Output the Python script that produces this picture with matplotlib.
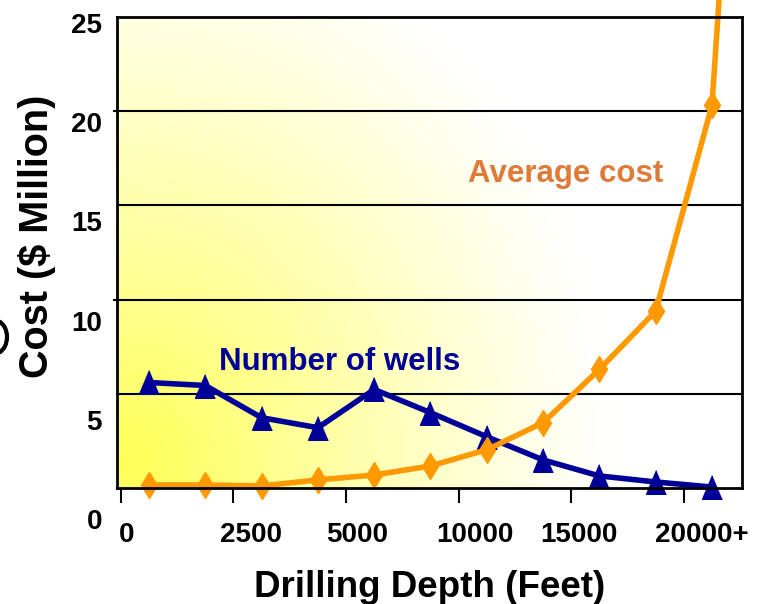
import numpy as np
import matplotlib
matplotlib.use('Agg')
import matplotlib.pyplot as plt
from matplotlib.transforms import ScaledTranslation
from matplotlib.patches import Arc

# ---------------- data ----------------
depth_labels = ['0', '2500', '5000', '10000', '15000', '20000+']
n_points = 11
wells = [5.6, 5.44, 3.73, 3.2, 5.23, 4.0, 2.72, 1.49, 0.64, 0.32, 0.05]
avg_cost = [0.16, 0.16, 0.11, 0.43, 0.69, 1.17, 2.03, 3.47, 6.29, 9.39, 20.32]
cost_tail_x = 10.15      # line keeps rising off the chart
cost_tail_y = 27.0
y_ticks = [0, 5, 10, 15, 20, 25]
grid_values = [5, 10, 15, 20]
y_marks = [10, 20]

# ---------------- style ----------------
plt.rcParams['font.family'] = ['Liberation Sans', 'DejaVu Sans']
plt.rcParams['font.weight'] = 'bold'

ORANGE = '#FF9900'
NAVY = '#000099'
COST_TXT = '#DF7A38'

W, H = 758, 604
fig = plt.figure(figsize=(W / 100, H / 100), dpi=100)


def fx(px):
    return px / W


def fy(py):
    return 1 - py / H


ax = fig.add_axes([fx(117), fy(488), fx(742) - fx(117), fy(17) - fy(488)])
ax.set_xlim(-0.568, 10.533)
ax.set_ylim(0, 25)

# gradient background (yellow at lower-left fading to white)
gw, gh = 400, 300
u = np.linspace(0, 1, gw)[None, :]
v = np.linspace(1, 0, gh)[:, None]
d = np.sqrt(((u - 0.02) / 0.78) ** 2 + ((v - 0.05) / 1.2) ** 2)
w = np.clip(1 - d, 0, 1) ** 1.15
img = np.zeros((gh, gw, 3))
img[..., 0] = 1.0
img[..., 1] = 1.0
img[..., 2] = 1.0 - 0.66 * w
ax.imshow(img, extent=[0, 1, 0, 1], transform=ax.transAxes, aspect='auto',
          zorder=0, interpolation='bilinear')

for g in grid_values:
    ax.axhline(g, color='black', lw=1.5, zorder=1)

x = np.arange(n_points)
ax.plot(x, wells, color=NAVY, lw=4.0, zorder=3, clip_on=False)
ax.plot(x, wells, linestyle='none', marker=[(0, 1), (-0.84, -1), (0.84, -1)],
        ms=17, color=NAVY, zorder=3, clip_on=False)

cx = list(x) + [cost_tail_x]
cy = list(avg_cost) + [cost_tail_y]
ax.plot(cx, cy, color=ORANGE, lw=4.0, zorder=4, clip_on=False)
ax.plot(x, avg_cost, linestyle='none', marker='d', ms=13, color=ORANGE,
        zorder=4, clip_on=False)

for s in ax.spines.values():
    s.set_linewidth(2.0)
    s.set_color('black')
    s.set_zorder(5)

# bottom depth ticks at bin boundaries
depth_tick_pos = np.arange(-0.5, n_points - 1, 2)
ax.set_xticks(depth_tick_pos)
ax.set_xticklabels(depth_labels)
ax.tick_params(axis='x', direction='out', length=10.8, width=1.5,
               labelsize=20, pad=13.5, colors='black')
label_dx = [6, 18, 11, 16, 8, 18]
for lab, dx in zip(ax.get_xticklabels(), label_dx):
    lab.set_transform(lab.get_transform() +
                      ScaledTranslation(dx / 100, 0, fig.dpi_scale_trans))
    lab.set_fontweight('bold')

ax.set_yticks(y_marks)
ax.set_yticklabels([])
ax.tick_params(axis='y', direction='out', length=3, width=1.5)

# y labels (separate scale as in the original artwork)
ax_lab = fig.add_axes([fx(117), fy(519), 0.001, fy(23) - fy(519)])
ax_lab.set_ylim(0, 25)
ax_lab.set_yticks(y_ticks)
ax_lab.set_yticklabels([str(t) for t in y_ticks])
ax_lab.set_xticks([])
for s in ax_lab.spines.values():
    s.set_visible(False)
ax_lab.patch.set_visible(False)
ax_lab.tick_params(axis='y', length=0, pad=10.8, labelsize=20)
for lab in ax_lab.get_yticklabels():
    lab.set_fontweight('bold')

fig.text(fx(37), fy(236.5), 'Cost ($ Million)', rotation=90, ha='center',
         va='center', fontsize=28.5, fontweight='bold')
fig.text(fx(429.5), fy(597), 'Drilling Depth (Feet)', ha='center',
         va='baseline', fontsize=26.5, fontweight='bold')
fig.text(fx(340), fy(370), 'Number of wells', ha='center', va='baseline',
         fontsize=22.5, fontweight='bold', color=NAVY)
fig.text(fx(565.5), fy(182), 'Average cost', ha='center', va='baseline',
         fontsize=22.5, fontweight='bold', color=COST_TXT)

# fragment of a cut-off glyph at the left edge of the original artwork
frag = Arc((fx(-6), fy(337)), width=fx(26), height=34 / H, theta1=-75,
           theta2=75, transform=fig.transFigure, color='black', lw=3)
fig.add_artist(frag)

fig.savefig('out.png', dpi=100)
